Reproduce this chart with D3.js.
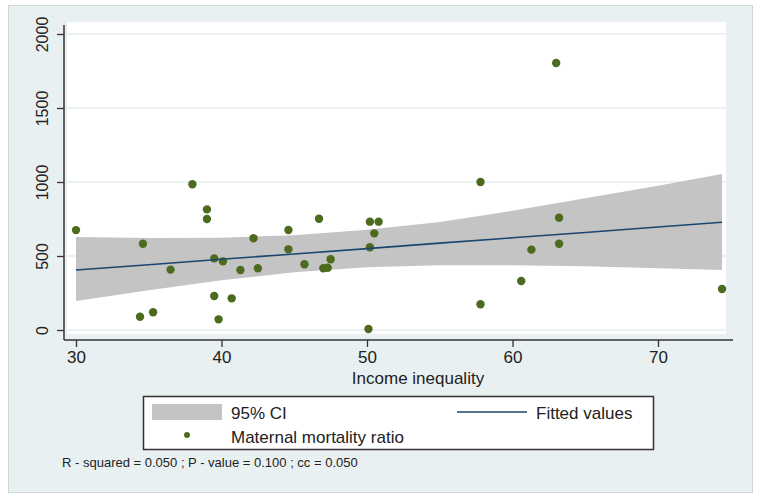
<!DOCTYPE html>
<html>
<head>
<meta charset="utf-8">
<script src="https://cdn.jsdelivr.net/npm/d3@7"></script>
<style>
  body { margin: 0; background: #fff; }
  text { font-family: "Liberation Sans", Arial, sans-serif; fill: #222; }
</style>
</head>
<body>
<div id="plot"></div>
<script>
// scatter data: income inequality vs maternal mortality ratio
var inequality = [30.0, 34.4, 34.6, 35.3, 36.5, 38.0, 39.0, 39.0, 39.5, 39.5, 39.8, 40.1,
  40.7, 41.3, 42.2, 42.5, 44.6, 44.6, 45.7, 46.7, 47.0, 47.3, 47.5, 50.1,
  50.2, 50.2, 50.5, 50.8, 57.8, 57.8, 60.6, 61.3, 63.0, 63.2, 63.2, 74.4];
var mortality = [675, 90, 583, 120, 408, 985, 815, 750, 484, 230, 72, 464,
  214, 405, 620, 417, 676, 545, 444, 752, 417, 421, 478, 7,
  559, 732, 653, 732, 1000, 174, 331, 543, 1804, 759, 583, 277];

// fitted line and 95% CI band
var fitX = [30, 35, 40, 45, 50, 55, 60, 65, 70, 74.4];
var fitY = [405, 441, 478, 514, 550, 587, 623, 659, 696, 728];
var ciUpper = [628, 622, 624, 640, 678, 730, 805, 890, 975, 1054];
var ciLower = [196, 268, 336, 390, 424, 438, 438, 430, 418, 405];

var xTicks = [30, 40, 50, 60, 70];
var yTicks = [0, 500, 1000, 1500, 2000];

var svgWidth = 760;
var svgHeight = 499;

var svg = d3.select("#plot")
  .append("svg")
  .attr("width", svgWidth)
  .attr("height", svgHeight);

// graph region
svg.append("rect")
  .attr("x", 8.5).attr("y", 5.5)
  .attr("width", 744).attr("height", 487)
  .attr("fill", "#e9f0f2")
  .attr("stroke", "#cfd6d8");

// plot region
svg.append("rect")
  .attr("x", 67).attr("y", 22)
  .attr("width", 659).attr("height", 312)
  .attr("fill", "#fff");

var xScale = d3.scaleLinear().domain([30, 70]).range([76, 658]);
var yScale = d3.scaleLinear().domain([0, 2000]).range([330, 34]);

// gridlines
svg.append("g")
  .selectAll("line")
  .data(yTicks)
  .enter()
  .append("line")
  .attr("x1", 67).attr("x2", 726)
  .attr("y1", d => yScale(d)).attr("y2", d => yScale(d))
  .attr("stroke", "#e6eef0")
  .attr("stroke-width", 1.5);

var band = [];
fitX.forEach(function(x, i) {
  band.push({x: x, hi: ciUpper[i], lo: ciLower[i], fit: fitY[i]});
});

var area = d3.area()
  .x(d => xScale(d.x))
  .y0(d => yScale(d.lo))
  .y1(d => yScale(d.hi));

svg.append("path")
  .datum(band)
  .attr("d", area)
  .attr("fill", "#c4c4c4");

var points = inequality.map((x, i) => ({x: x, y: mortality[i]}));

svg.append("g")
  .selectAll("circle")
  .data(points)
  .enter()
  .append("circle")
  .attr("cx", d => xScale(d.x))
  .attr("cy", d => yScale(d.y))
  .attr("r", 4.2)
  .attr("fill", "#4d6b1e");

var line = d3.line()
  .x(d => xScale(d.x))
  .y(d => yScale(d.fit));

svg.append("path")
  .datum(band)
  .attr("d", line)
  .attr("fill", "none")
  .attr("stroke", "#1a476f")
  .attr("stroke-width", 1.6);

// axes
var bottomAxis = d3.axisBottom(xScale).tickValues(xTicks).tickSize(7).tickPadding(4);
var leftAxis = d3.axisLeft(yScale).tickValues(yTicks).tickFormat(d3.format("d")).tickSize(7).tickPadding(6);

var xg = svg.append("g")
  .attr("transform", "translate(0,340)")
  .call(bottomAxis);
xg.select(".domain").attr("d", "M64,0H733").attr("stroke", "#333").attr("stroke-width", 1.5);
xg.selectAll(".tick line").attr("stroke", "#333").attr("stroke-width", 1.3);
xg.selectAll(".tick text").attr("font-size", 17).attr("font-family", "Liberation Sans, Arial, sans-serif").attr("fill", "#222");

var yg = svg.append("g")
  .attr("transform", "translate(64,0)")
  .call(leftAxis);
yg.select(".domain").attr("d", "M0,25V340").attr("stroke", "#333").attr("stroke-width", 1.5);
yg.selectAll(".tick line").attr("stroke", "#333").attr("stroke-width", 1.3);
yg.selectAll(".tick text")
  .attr("font-size", 16)
  .attr("font-family", "Liberation Sans, Arial, sans-serif")
  .attr("fill", "#222")
  .attr("x", null).attr("dy", null)
  .attr("text-anchor", "middle")
  .attr("transform", "translate(-16,0) rotate(-90)");

svg.append("text")
  .attr("x", 418).attr("y", 384)
  .attr("text-anchor", "middle")
  .attr("font-size", 17)
  .text("Income inequality");

// legend
var legend = svg.append("g");
legend.append("rect")
  .attr("x", 143.5).attr("y", 396.5)
  .attr("width", 510).attr("height", 53)
  .attr("fill", "#fff")
  .attr("stroke", "#333")
  .attr("stroke-width", 1.5);
legend.append("rect")
  .attr("x", 152).attr("y", 404)
  .attr("width", 70).attr("height", 16)
  .attr("fill", "#c4c4c4");
legend.append("text")
  .attr("x", 231).attr("y", 419)
  .attr("font-size", 17)
  .text("95% CI");
legend.append("line")
  .attr("x1", 457).attr("x2", 527)
  .attr("y1", 412).attr("y2", 412)
  .attr("stroke", "#1a476f")
  .attr("stroke-width", 1.6);
legend.append("text")
  .attr("x", 536).attr("y", 419)
  .attr("font-size", 17)
  .text("Fitted values");
legend.append("circle")
  .attr("cx", 187).attr("cy", 435)
  .attr("r", 3)
  .attr("fill", "#4d6b1e");
legend.append("text")
  .attr("x", 231).attr("y", 443)
  .attr("font-size", 17)
  .text("Maternal mortality ratio");

svg.append("text")
  .attr("x", 62).attr("y", 467)
  .attr("font-size", 13)
  .text("R - squared = 0.050 ; P - value = 0.100 ; cc = 0.050");
</script>
</body>
</html>
